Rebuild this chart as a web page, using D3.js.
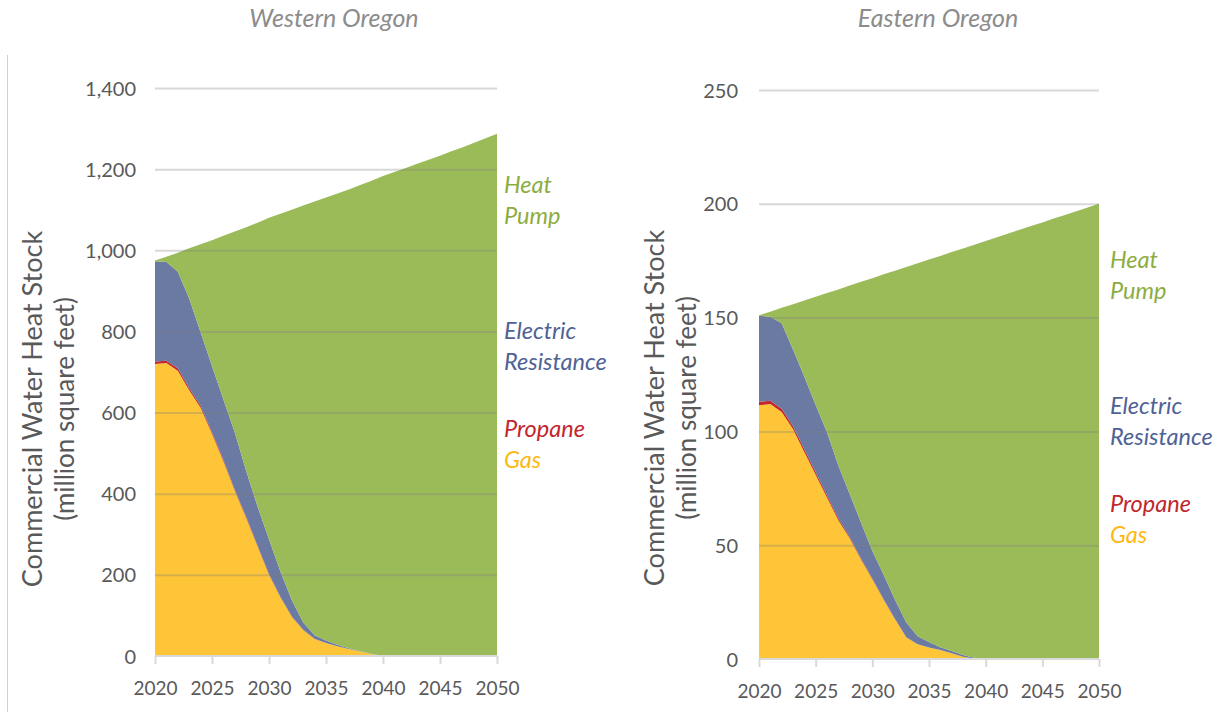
<!DOCTYPE html>
<html>
<head>
<meta charset="utf-8">
<script src="https://cdn.jsdelivr.net/npm/d3@7/dist/d3.min.js"></script>
<style>
  html, body { margin: 0; padding: 0; background: #ffffff; }
  svg { display: block; }
  text { font-family: Lato, "Open Sans", sans-serif; }
</style>
</head>
<body>
<svg id="chart" width="1220" height="721"></svg>
<script>
// ---------------- DATA ----------------
const years = [2020,2021,2022,2023,2024,2025,2026,2027,2028,2029,2030,2031,2032,2033,2034,2035,2036,2037,2038,2039,2040,2041,2042,2043,2044,2045,2046,2047,2048,2049,2050];
const xTickYears = [2020, 2025, 2030, 2035, 2040, 2045, 2050];
const seriesKeys = ["gas", "propane", "electric", "heatpump"];

// Western Oregon (million square feet)
const westGas      = [720,722,703,655,612,548,480,407,340,270,200,145,97,64,42,32,24,17,11,5,0,0,0,0,0,0,0,0,0,0,0];
const westPropane  = [6,6,6,5,5,4,4,3,3,2,2,1,1,0.5,0.3,0,0,0,0,0,0,0,0,0,0,0,0,0,0,0,0];
const westElectric = [247,243,238,221,181,163,148,141,113,96,86,62,40,18,9,6,4,2,1,0.5,0,0,0,0,0,0,0,0,0,0,0];
const westHeatPump = [2,13,47,124,217,310,404,495,601,700,792,882,962,1028,1069,1092,1112,1131,1149,1166,1183,1193,1203,1213,1223,1233,1244,1254,1265,1276,1287];
const westTicks    = [0,200,400,600,800,1000,1200,1400];

// Eastern Oregon (million square feet)
const eastGas      = [111.5,112,108.5,101,91,81,71,61,53,43.7,35,26,17.5,9.5,6.5,5,4,2.5,1,0.2,0,0,0,0,0,0,0,0,0,0,0];
const eastPropane  = [1.5,1.5,1.4,1.3,1.2,1,0.9,0.8,0.6,0.5,0.4,0.3,0.2,0.1,0,0,0,0,0,0,0,0,0,0,0,0,0,0,0,0,0];
const eastElectric = [37.8,36.9,37.6,33.7,31.8,29.6,27.7,23.2,18.9,15.8,12.1,10.7,8.3,6.4,3.5,2.5,1.2,1,0.8,0.3,0,0,0,0,0,0,0,0,0,0,0];
const eastHeatPump = [0.2,2.2,6.8,19.9,33.5,47.6,61.2,77.4,91.6,105.7,119.8,132,144.6,156.2,163.9,168,171.9,175.3,178.6,181.5,183.7,185.3,186.9,188.6,190.2,191.8,193.5,195.1,196.7,198.4,200];
const eastTicks    = [0,50,100,150,200,250];

const titles = ["Western Oregon", "Eastern Oregon"];
const yTitle1 = "Commercial Water Heat Stock";
const yTitle2 = "(million square feet)";

// ---------------- STYLE ----------------
const fills = { gas: "#fdc537", propane: "#c3262c", electric: "#6b7aa2", heatpump: "#9bbb59" };
const labelColors = { gas: "#fdb913", propane: "#c1272d", electric: "#4f6296", heatpump: "#8cad3f" };

const svg = d3.select("#chart");

// left frame line
svg.append("line").attr("x1", 7.5).attr("x2", 7.5).attr("y1", 55).attr("y2", 712)
  .attr("stroke", "#d0d0d0").attr("stroke-width", 1);

function drawPanel(cfg) {
  const table = years.map((yr, i) => ({
    year: yr,
    gas: cfg.gas[i], propane: cfg.propane[i], electric: cfg.electric[i], heatpump: cfg.heatpump[i]
  }));
  const x = d3.scaleLinear().domain([years[0], years[years.length - 1]]).range([cfg.x0, cfg.x1]);
  const y = d3.scaleLinear().domain([0, cfg.ymax]).range([cfg.y0, cfg.y1]);
  const stack = d3.stack().keys(seriesKeys);
  const layers = stack(table);
  const area = d3.area().x(d => x(d.data.year)).y0(d => y(d[0])).y1(d => y(d[1])).curve(d3.curveLinear);

  const g = svg.append("g");
  g.selectAll("path.layer").data(layers).join("path")
    .attr("class", "layer")
    .attr("d", area)
    .attr("fill", d => fills[d.key]);

  // gridlines (drawn over the areas, semi-transparent)
  const yAxisGrid = d3.axisLeft(y).tickValues(cfg.ticks.filter(t => t > 0)).tickSize(-(cfg.x1 - cfg.x0)).tickFormat("");
  const grid = g.append("g").attr("transform", `translate(${cfg.x0},0)`).call(yAxisGrid);
  grid.select(".domain").remove();
  grid.selectAll("line").attr("stroke", "#7f7f7f").attr("stroke-opacity", 0.3).attr("stroke-width", 2);

  // y tick labels
  const yAxis = d3.axisLeft(y).tickValues(cfg.ticks).tickSize(0).tickPadding(0).tickFormat(d3.format(","));
  const ya = g.append("g").attr("transform", `translate(${cfg.labelX},0)`).call(yAxis);
  ya.select(".domain").remove();
  ya.selectAll("text").attr("fill", "#595959").attr("font-size", 20).attr("font-family", "Lato, sans-serif").attr("dy", "0.35em");

  // x axis
  const xAxis = d3.axisBottom(x).tickValues(xTickYears).tickSize(8).tickPadding(18).tickFormat(d3.format("d"));
  const xa = g.append("g").attr("transform", `translate(0,${cfg.y0})`).call(xAxis);
  xa.select(".domain").attr("stroke", "#d9d9d9").attr("stroke-width", 2).attr("d", `M${cfg.x0},0H${cfg.x1}`);
  xa.selectAll(".tick line").attr("stroke", "#d9d9d9").attr("stroke-width", 2);
  xa.selectAll("text").attr("fill", "#595959").attr("font-size", 19).attr("font-family", "Lato, sans-serif");

  // title
  g.append("text").attr("x", cfg.titleX).attr("y", 27).attr("text-anchor", "middle")
    .attr("font-size", 25).attr("font-style", "italic").attr("fill", "#8c8c8c").text(cfg.title);

  // y axis title
  const tg = g.append("g").attr("transform", `translate(${cfg.ytX},${cfg.ytY}) rotate(-90)`);
  tg.append("text").attr("x", 0).attr("y", 0).attr("text-anchor", "middle").attr("font-size", 27)
    .attr("fill", "#595959").text(yTitle1);
  tg.append("text").attr("x", 0).attr("y", 32).attr("text-anchor", "middle").attr("font-size", 26)
    .attr("fill", "#595959").text(yTitle2);

  // series labels
  const lab = g.append("g").attr("font-size", 23.5).attr("font-style", "italic");
  cfg.labels.forEach(l => {
    lab.append("text").attr("x", cfg.labX).attr("y", l.y).attr("fill", labelColors[l.key]).text(l.text);
  });
}

drawPanel({
  gas: westGas, propane: westPropane, electric: westElectric, heatpump: westHeatPump,
  ticks: westTicks, ymax: 1400,
  x0: 155, x1: 497, y0: 656, y1: 88, labelX: 136,
  title: titles[0], titleX: 334,
  ytX: 42, ytY: 409,
  labX: 504,
  labels: [
    { key: "heatpump", text: "Heat", y: 193 },
    { key: "heatpump", text: "Pump", y: 224 },
    { key: "electric", text: "Electric", y: 339 },
    { key: "electric", text: "Resistance", y: 370 },
    { key: "propane", text: "Propane", y: 437 },
    { key: "gas", text: "Gas", y: 468 }
  ]
});

drawPanel({
  gas: eastGas, propane: eastPropane, electric: eastElectric, heatpump: eastHeatPump,
  ticks: eastTicks, ymax: 250,
  x0: 759, x1: 1099, y0: 659, y1: 90, labelX: 738,
  title: titles[1], titleX: 938,
  ytX: 664, ytY: 408,
  labX: 1110,
  labels: [
    { key: "heatpump", text: "Heat", y: 268 },
    { key: "heatpump", text: "Pump", y: 299 },
    { key: "electric", text: "Electric", y: 414 },
    { key: "electric", text: "Resistance", y: 445 },
    { key: "propane", text: "Propane", y: 512 },
    { key: "gas", text: "Gas", y: 543 }
  ]
});
</script>
</body>
</html>
